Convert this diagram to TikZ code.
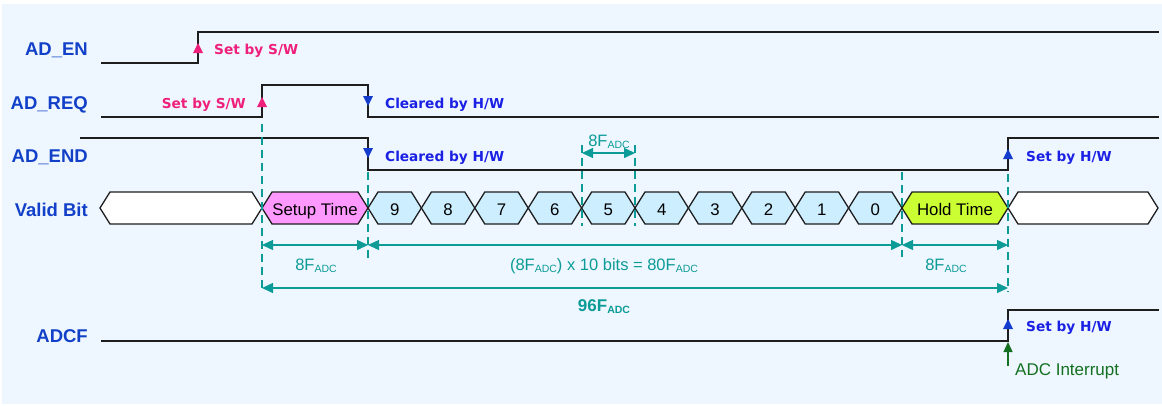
\documentclass[tikz,border=0pt]{standalone}
\usepackage{fontspec}
\setmainfont{Liberation Sans}
\newfontfamily\notefont{DejaVu Sans}
\usetikzlibrary{arrows.meta}

\definecolor{bgc}{RGB}{238,247,255}
\definecolor{wavec}{RGB}{30,30,30}
\definecolor{sigblue}{RGB}{18,64,200}
\definecolor{hwblue}{RGB}{26,32,228}
\definecolor{markblue}{RGB}{20,60,205}
\definecolor{swpink}{RGB}{238,32,124}
\definecolor{tealc}{RGB}{12,155,150}
\definecolor{intgreen}{RGB}{20,112,32}
\definecolor{setupfill}{RGB}{255,153,255}
\definecolor{bitfill}{RGB}{204,238,255}
\definecolor{holdfill}{RGB}{204,255,51}

% F with a small lowered "ADC"
\newcommand\Fadc{F\raisebox{-2.2pt}{\fontsize{10.5}{12}\selectfont ADC}}

% one cell of the data bus: name, left tip x, right tip x, fill, text
\newcommand\hexcell[5]{%
  \draw[hexline, fill=#4] (#2,208) -- (#2+10,192) -- (#3-10,192) -- (#3,208)
    -- (#3-10,224) -- (#2+10,224) -- cycle;
  \node[hextext] (#1) at ({(#2+#3)/2},215) {#5};}

\tikzset{
  wave/.style={draw=wavec, line width=1.4pt},
  hexline/.style={draw=wavec, line width=1.3pt, line join=miter},
  guide/.style={draw=tealc, line width=1.4pt, dash pattern=on 8pt off 5pt},
  dim/.style={draw=tealc, line width=1.4pt, <->, >={Triangle[length=11pt,width=10pt]}},
  sig/.style={font=\fontsize{18.5}{20}\selectfont\bfseries, text=sigblue, anchor=base east, inner sep=0pt},
  note/.style={font=\notefont\fontsize{13.7}{15}\selectfont\bfseries, anchor=base west, inner sep=0pt},
  hextext/.style={font=\fontsize{16.8}{18}\selectfont, text=black, anchor=base, inner sep=0pt},
  dimtext/.style={font=\fontsize{16.5}{18}\selectfont, text=tealc, anchor=base, inner sep=0pt},
  upmark/.pic={\fill[#1] (0,0) -- (5,10) -- (-5,10) -- cycle;},
  downmark/.pic={\fill[#1] (0,0) -- (5,-10) -- (-5,-10) -- cycle;},
}

\begin{document}
\begin{tikzpicture}[x=1pt,y=-1pt]
\useasboundingbox (0,0) rectangle (1162,405);
\fill[bgc] (2,4) rectangle (1162,404);

% ---------- signal names ----------
\node[sig] (lEN)   at (88,55)  {AD\_EN};
\node[sig] (lREQ)  at (88,109) {AD\_REQ};
\node[sig] (lEND)  at (88,162) {AD\_END};
\node[sig] (lVB)   at (88,216) {Valid Bit};
\node[sig] (lADCF) at (88,342) {ADCF};

% ---------- waveforms ----------
\coordinate (en-s) at (101,63);  \coordinate (en-r) at (198,63);  \coordinate (en-e) at (1159,32);
\draw[wave] (en-s) -- (en-r) |- (en-e);

\coordinate (req-s) at (101,117); \coordinate (req-r) at (262,117);
\coordinate (req-f) at (368,85);  \coordinate (req-e) at (1159,117);
\draw[wave] (req-s) -- (req-r) |- (req-f) |- (req-e);

\coordinate (end-s) at (80,138);  \coordinate (end-f) at (368,170);
\coordinate (end-r) at (1008,138); \coordinate (end-e) at (1159,138);
\draw[wave] (end-s) -| (end-f) -| (end-r) -- (end-e);

\coordinate (adcf-s) at (101,341); \coordinate (adcf-r) at (1008,341); \coordinate (adcf-e) at (1159,310);
\draw[wave] (adcf-s) -- (adcf-r) |- (adcf-e);

% ---------- edge markers and notes ----------
\pic at (198,43) {upmark=swpink};
\node[note, text=swpink] (nEN) at (214,54) {Set by S/W};

\pic at (262,97) {upmark=swpink};
\node[note, text=swpink, anchor=base east] (nREQs) at (246,108) {Set by S/W};
\pic at (368,106) {downmark=markblue};
\node[note, text=hwblue] (nREQc) at (385,108) {Cleared by H/W};

\pic at (368,158) {downmark=markblue};
\node[note, text=hwblue] (nENDc) at (385,161) {Cleared by H/W};
\pic at (1008,149) {upmark=markblue};
\node[note, text=hwblue] (nENDs) at (1026,161) {Set by H/W};

\pic at (1008,319) {upmark=markblue};
\node[note, text=hwblue] (nADCF) at (1026,331) {Set by H/W};

% interrupt arrow
\coordinate (irq) at (1008,366);
\draw[draw=intgreen, line width=1.4pt, -{Triangle[length=10pt,width=9pt]}, shorten >=1pt] (irq) -- (adcf-r);
\node[font=\fontsize{17}{19}\selectfont, text=intgreen, anchor=base west, inner sep=0pt] (nIRQ) at (1015,375) {ADC Interrupt};

% ---------- data bus ----------
\hexcell{vIdle}{100}{262}{white}{}
\hexcell{vSetup}{262}{368}{setupfill}{Setup Time}
\foreach \i in {0,...,9}{
  \pgfmathsetmacro\xa{368+\i*53.4}
  \pgfmathsetmacro\xb{368+(\i+1)*53.4}
  \pgfmathtruncatemacro\lbl{9-\i}
  \hexcell{bit\lbl}{\xa}{\xb}{bitfill}{\lbl}
}
\hexcell{vHold}{902}{1008}{holdfill}{Hold Time}
\hexcell{vDone}{1008}{1158}{white}{}

% ---------- guide lines ----------
\coordinate (gA-t) at (262,124); \coordinate (gA-b) at (262,290);
\coordinate (gB-t) at (368,172); \coordinate (gB-b) at (368,258);
\coordinate (gC-t) at (582,145); \coordinate (gC-b) at (582,226);
\coordinate (gD-t) at (635,145); \coordinate (gD-b) at (635,226);
\coordinate (gE-t) at (902,172); \coordinate (gE-b) at (902,257);
\coordinate (gF-t) at (1008,174); \coordinate (gF-b) at (1008,292);
\foreach \g in {gA,gB,gC,gD,gE,gF}{\draw[guide] (\g-t) -- (\g-b);}

% ---------- dimensions ----------
\coordinate (row0) at (0,153);
\coordinate (row1) at (0,245);
\coordinate (row2) at (0,288);
\draw[dim] (gC-t |- row0) -- (gD-t |- row0);
\node[dimtext] (dBit) at (609,146) {8\Fadc};

\draw[dim] (gA-t |- row1) -- (gB-t |- row1);
\draw[dim] (gB-t |- row1) -- (gE-t |- row1);
\draw[dim] (gE-t |- row1) -- (gF-t |- row1);
\node[dimtext] (dSetup) at (316,270) {8\Fadc};
\node[dimtext] (dConv)  at (604,270) {(8\Fadc) x 10 bits = 80\Fadc};
\node[dimtext] (dHold)  at (946,270) {8\Fadc};

\draw[dim] (gA-t |- row2) -- (gF-t |- row2);
\node[dimtext, font=\fontsize{17}{19}\selectfont\bfseries] (dTotal) at (604,311) {96\Fadc};
\end{tikzpicture}
\end{document}
